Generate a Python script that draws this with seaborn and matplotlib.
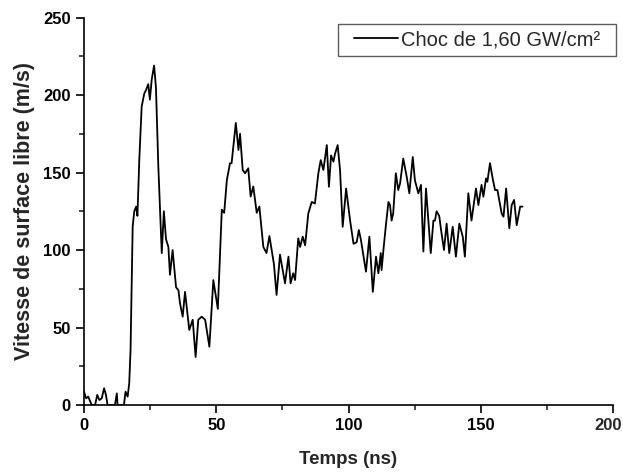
import numpy as np
import pandas as pd
import seaborn as sns
import matplotlib
matplotlib.use("Agg")
import matplotlib.pyplot as plt
from matplotlib.ticker import MultipleLocator, FuncFormatter

temps = [0.0, 0.8, 1.6, 2.9, 4.2, 5.0, 5.8, 6.7, 7.6, 8.3, 8.9, 11.7, 12.4, 12.7, 15.1, 15.7,
         16.5, 17.1, 17.6, 18.4, 19.0, 19.7, 20.2, 20.9, 21.8, 22.8, 23.4, 24.3, 24.9, 25.6,
         26.5, 27.2, 28.1, 28.7, 29.4, 30.2, 31.0, 31.9, 32.5, 33.5, 34.8, 35.7, 36.3, 37.3,
         38.2, 39.1, 39.8, 41.1, 42.2, 43.2, 44.5, 45.8, 47.4, 48.9, 50.6, 52.1, 53.0, 54.0,
         55.2, 55.8, 57.4, 58.4, 59.0, 60.0, 60.9, 62.1, 63.0, 64.0, 65.3, 66.3, 67.8, 69.0,
         70.1, 71.8, 72.8, 74.1, 76.0, 77.3, 78.1, 79.1, 79.8, 81.0, 81.7, 82.7, 83.6, 84.8,
         86.1, 87.3, 88.6, 89.5, 90.5, 91.8, 92.6, 93.4, 94.3, 94.9, 95.9, 96.8, 97.8, 99.1,
         100.6, 101.9, 103.1, 103.9, 104.7, 106.6, 107.9, 109.2, 110.4, 111.3, 112.2, 112.5,
         113.2, 114.2, 115.1, 115.7, 116.3, 116.9, 117.9, 118.8, 119.5, 120.7, 122.0, 123.0,
         124.3, 125.1, 126.4, 127.4, 128.3, 129.3, 130.2, 131.1, 132.1, 132.7, 133.3, 134.3,
         135.0, 136.1, 137.1, 138.1, 139.4, 140.6, 141.9, 143.2, 144.0, 145.3, 146.5, 148.2,
         149.1, 150.3, 151.0, 152.0, 152.5, 153.5, 154.5, 155.4, 156.3, 157.9, 158.6, 159.6,
         160.8, 161.7, 162.6, 163.6, 164.9, 165.8]
vitesse = [8.6, 4.3, 5.4, 0.0, 0.0, 6.5, 3.2, 4.3, 10.8, 6.5, 0.0, 0.0, 7.5, 0.0, 0.0, 8.6,
           5.4, 14.0, 35.5, 115.0, 125.0, 128.0, 122.0, 158.0, 192.5, 201.0, 203.0, 207.0, 197.0, 210.0,
           219.0, 205.0, 154.0, 128.0, 98.0, 125.0, 107.0, 102.0, 84.0, 100.0, 76.0, 74.0, 65.6, 57.0,
           73.0, 59.0, 48.4, 55.0, 31.0, 55.0, 57.0, 55.0, 37.6, 80.6, 62.0, 126.0, 124.0, 145.0,
           156.0, 156.0, 182.0, 164.5, 175.0, 151.6, 149.5, 152.7, 134.5, 141.0, 124.0, 128.0, 102.0, 98.0,
           109.0, 91.0, 71.0, 97.0, 78.5, 95.7, 78.5, 85.0, 80.6, 107.5, 102.0, 108.6, 103.0, 123.6,
           131.0, 130.0, 149.5, 158.0, 151.6, 167.7, 140.8, 161.0, 157.0, 162.0, 167.7, 151.6, 115.0, 139.7,
           119.0, 104.0, 105.0, 112.9, 106.5, 86.0, 108.6, 73.0, 95.7, 85.0, 98.0, 87.0,
           100.0, 117.0, 131.0, 129.0, 119.0, 123.6, 149.5, 138.7, 143.0, 159.0, 147.3, 136.6,
           160.0, 145.0, 136.6, 142.0, 99.0, 139.7, 119.0, 98.0, 119.0, 119.0, 125.0, 122.0,
           112.9, 100.0, 117.0, 98.0, 115.0, 95.7, 117.0, 108.6, 95.7, 136.6, 119.0, 139.7,
           129.0, 142.0, 134.4, 146.2, 144.0, 156.0, 146.2, 138.7, 138.7, 123.6, 121.5, 139.7,
           114.0, 129.0, 132.3, 116.0, 128.0, 128.0]
serie = "Choc de 1,60 GW/cm²"

df = pd.DataFrame({"Temps": temps, "Vitesse": vitesse, "Série": serie})

sns.set_style("ticks")
plt.rcParams["font.family"] = ["Liberation Sans", "DejaVu Sans"]
plt.rcParams["xtick.direction"] = "out"
plt.rcParams["ytick.direction"] = "out"

fig = plt.figure(figsize=(6.23, 4.73), dpi=100)
ax = fig.add_axes([84/623, 68/473, 529/623, 387.5/473])

sns.lineplot(data=df, x="Temps", y="Vitesse", hue="Série", palette=["black"],
             linewidth=1.3, ax=ax, estimator=None, sort=False)

XMAX = 200
ax.set_xlim(0, XMAX)
ax.set_ylim(0, 250)
ax.xaxis.set_major_locator(MultipleLocator(50))
ax.xaxis.set_minor_locator(MultipleLocator(25))
ax.yaxis.set_major_locator(MultipleLocator(50))
ax.yaxis.set_minor_locator(MultipleLocator(25))
# last x tick label is drawn separately, nudged left so it stays inside the figure
ax.xaxis.set_major_formatter(FuncFormatter(lambda v, p: "" if v >= XMAX else f"{v:.0f}"))
ax.tick_params(which="major", length=6, width=1.2, labelsize=12, colors="black")
ax.tick_params(which="minor", length=3.5, width=1.2)
for lab in ax.get_xticklabels() + ax.get_yticklabels():
    lab.set_fontweight("bold")
ax.annotate(f"{XMAX}", xy=(XMAX, 0), xycoords=("data", "axes fraction"),
            xytext=(-3.5, -9.5), textcoords="offset points", ha="center", va="top",
            fontsize=12, fontweight="bold", annotation_clip=False)
for s in ["left", "bottom"]:
    ax.spines[s].set_linewidth(1.2)
    ax.spines[s].set_color("black")
ax.spines["top"].set_visible(False)
ax.spines["right"].set_visible(False)

ax.set_xlabel("Temps (ns)", fontsize=13.5, fontweight="bold", labelpad=13)
ax.set_ylabel("Vitesse de surface libre (m/s)", fontsize=15.5, fontweight="bold", labelpad=6)

leg = ax.legend(loc="upper right", bbox_to_anchor=(0.987, 0.982), borderaxespad=0,
                frameon=True, fancybox=False, edgecolor="#333333", fontsize=14.5,
                handlelength=2.2, borderpad=0.3, handletextpad=0.15)
frame = leg.get_frame()
frame.set_linewidth(1.0)
frame.set_boxstyle("square", pad=0.5)
frame.set_mutation_aspect(0.01)
leg.set_title(None)

fig.savefig("out.png", dpi=100)
